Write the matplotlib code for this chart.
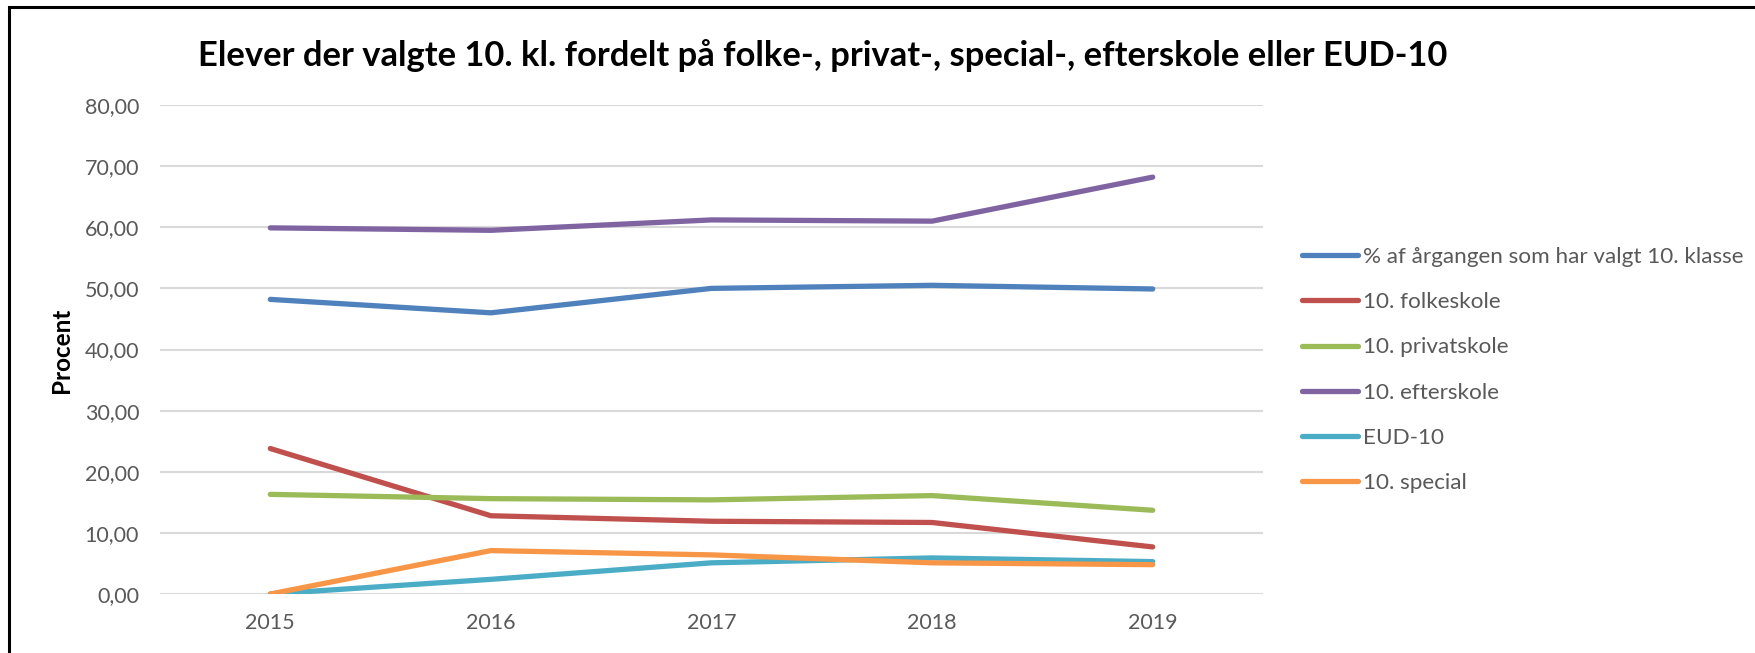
import matplotlib
matplotlib.use("Agg")
import matplotlib.pyplot as plt
from matplotlib.patches import Rectangle

plt.rcParams['font.family'] = ['Lato', 'DejaVu Sans']

years = ['2015', '2016', '2017', '2018', '2019']
aargang = [48.2, 46.0, 50.0, 50.5, 49.9]
folkeskole = [23.8, 12.8, 11.9, 11.7, 7.7]
privatskole = [16.3, 15.6, 15.4, 16.1, 13.7]
efterskole = [59.9, 59.5, 61.2, 61.0, 68.2]
eud10 = [0.0, 2.4, 5.1, 5.9, 5.3]
special = [0.0, 7.1, 6.4, 5.1, 4.8]

series = [
    ('% af årgangen som har valgt 10. klasse', aargang, '#4F81BD'),
    ('10. folkeskole', folkeskole, '#C0504D'),
    ('10. privatskole', privatskole, '#9BBB59'),
    ('10. efterskole', efterskole, '#8064A2'),
    ('EUD-10', eud10, '#4BACC6'),
    ('10. special', special, '#F79646'),
]

fig = plt.figure(figsize=(17.55, 6.53), dpi=100)
ax = fig.add_axes([160 / 1755, 1 - 594 / 653, 1103 / 1755, 489 / 653])

x = range(len(years))
for name, vals, col in series:
    ax.plot(x, vals, color=col, lw=3.8, solid_capstyle='round', label=name)

ax.set_xlim(-0.5, len(years) - 0.5)
ax.set_ylim(0, 80)
ax.set_yticks(range(0, 81, 10))
ax.set_yticklabels([f'{v},00' for v in range(0, 81, 10)])
ax.set_xticks(list(x))
ax.set_xticklabels(years)
ax.tick_params(length=0, labelsize=15.5, colors='#595959')
ax.tick_params(axis='x', pad=14)
ax.tick_params(axis='y', pad=15)
ax.grid(axis='y', color='#D9D9D9', lw=1.5)
ax.set_axisbelow(True)
for s in ax.spines.values():
    s.set_visible(False)

fig.text(62 / 1755, 1 - 350 / 653, 'Procent', rotation=90, ha='center', va='center',
         fontsize=17.5, fontweight='bold', color='black')
fig.text(823 / 1755, 1 - 56 / 653, 'Elever der valgte 10. kl. fordelt på folke-, privat-, special-, efterskole eller EUD-10',
         ha='center', va='center', fontsize=24.8, fontweight='bold', color='black')

fig.legend(loc='upper left', bbox_to_anchor=(1302 / 1755, 1 - 247 / 653), frameon=False,
           fontsize=16.2, labelcolor='#595959', handlelength=2.5, handletextpad=0.2,
           labelspacing=1.12, borderaxespad=0, borderpad=0)

fig.patches.append(Rectangle((9 / 1755, -0.1), 1.2, 1 - 7 / 653 + 0.1, transform=fig.transFigure,
                             fill=False, edgecolor='black', lw=2.2))

fig.savefig('out.png', dpi=100)
